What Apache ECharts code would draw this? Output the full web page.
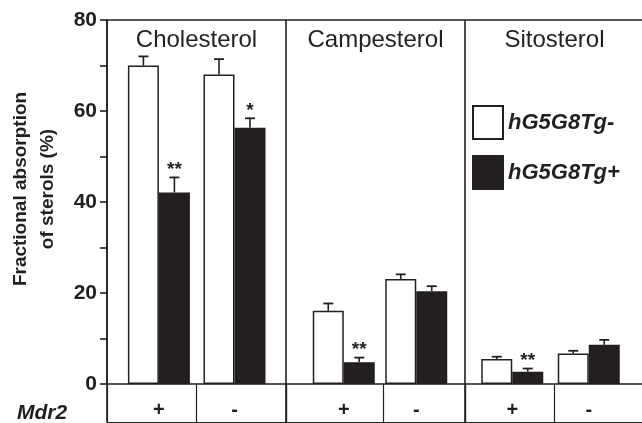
<!DOCTYPE html>
<html>
<head>
<meta charset="utf-8">
<script src="https://cdn.jsdelivr.net/npm/echarts@6/dist/echarts.min.js"></script>
<style>html,body{margin:0;padding:0;background:#fff}#c{width:642px;height:423px}</style>
</head>
<body>
<div id="c"></div>
<script>
// ---- data ----
const sterols = ['Cholesterol', 'Campesterol', 'Sitosterol'];
const mdr2 = ['+', '-'];
// order: Chol(+), Chol(-), Camp(+), Camp(-), Sito(+), Sito(-)
const tgNegMean = [70.0, 68.0, 16.1, 23.1, 5.5, 6.7];
const tgNegSem  = [2.0, 3.4, 1.6, 1.0, 0.5, 0.6];
const tgPosMean = [42.1, 56.3, 4.8, 20.4, 2.7, 8.6];
const tgPosSem  = [3.3, 2.1, 1.0, 1.1, 0.7, 1.1];
const tgPosStars = ['**', '*', '**', '', '**', ''];
const seriesNames = ['hG5G8Tg-', 'hG5G8Tg+'];
const yMin = 0, yMax = 80, yStep = 20;

// ---- layout / style ----
const INK = '#231f20';
const FONT = '"Liberation Sans", Arial, sans-serif';
const BAR_W = 31;
const TOP = 20, BOTTOM = 39;
const panelEdges = [107, 286, 465, 644];
const tableSplit = [[2, 1], [11, 6], [2, 1]]; // value-axis max & interval giving the +/- divider
const barGrids = [[121.1, 151.2], [307.5, 145], [474, 153]];

const chart = echarts.init(document.getElementById('c'), null, {renderer: 'canvas'});

const grid = [{left: 107, right: -2, top: TOP, bottom: BOTTOM, containLabel: false, outerBoundsMode: 'none'}];
const xAxis = [
  {gridIndex: 0, type: 'category', data: sterols, position: 'bottom', boundaryGap: true,
   axisLine: {show: true, lineStyle: {color: INK, width: 1.6}},
   axisTick: {show: true, length: 38, interval: 0, lineStyle: {color: INK, width: 1.6}},
   axisLabel: {show: false},
   splitLine: {show: true, interval: 0, lineStyle: {color: INK, width: 1.6}}},
  {gridIndex: 0, type: 'category', data: sterols, position: 'top', boundaryGap: true,
   axisLine: {show: true, lineStyle: {color: INK, width: 1.6}},
   axisTick: {show: false},
   axisLabel: {show: true, inside: true, margin: 8, interval: 0, color: INK, fontFamily: FONT, fontSize: 24}},
  {gridIndex: 0, type: 'category', data: sterols, position: 'bottom', offset: 38,
   axisLine: {show: true, lineStyle: {color: INK, width: 1.2}},
   axisTick: {show: false}, axisLabel: {show: false}}
];
const yAxis = [
  {gridIndex: 0, type: 'value', min: yMin, max: yMax, interval: yStep,
   name: 'Fractional absorption\nof sterols (%)', nameLocation: 'middle', nameRotate: 90, nameGap: 46,
   nameTextStyle: {color: INK, fontFamily: FONT, fontSize: 19, fontWeight: 'bold', lineHeight: 27, padding: [0, 0, 0, 26]},
   axisLine: {show: true, lineStyle: {color: INK, width: 1.6}},
   axisTick: {show: true, length: 7, lineStyle: {color: INK, width: 1.6}},
   minorTick: {show: true, splitNumber: 2, length: 7, lineStyle: {color: INK, width: 1.6}},
   splitLine: {show: false},
   axisLabel: {margin: 10, color: INK, fontFamily: FONT, fontSize: 21, fontWeight: 'bold'}}
];

// table grids (divider between + and - cells)
for (let p = 0; p < 3; p++) {
  grid.push({left: panelEdges[p], width: panelEdges[p + 1] - panelEdges[p], top: TOP, bottom: BOTTOM,
    containLabel: false, outerBoundsMode: 'none'});
  const gi = grid.length - 1;
  xAxis.push({gridIndex: gi, type: 'value', min: 0, max: tableSplit[p][0], interval: tableSplit[p][1],
    axisLine: {show: false}, axisLabel: {show: false}, splitLine: {show: false},
    axisTick: {show: true, length: 38, lineStyle: {color: INK, width: 1.2}}});
  yAxis.push({gridIndex: gi, type: 'value', min: yMin, max: yMax, show: false});
}

const series = [];
function errRender(side, stars) {
  return function (params, api) {
    const cat = api.value(0), mean = api.value(1), sem = api.value(2);
    const base = api.coord([cat, mean]);
    const top = api.coord([cat, mean + sem]);
    const x = base[0] + side * BAR_W / 2;
    const children = [
      {type: 'line', shape: {x1: x, y1: base[1], x2: x, y2: top[1]}, style: {stroke: INK, lineWidth: 1.6}},
      {type: 'line', shape: {x1: x - 5, y1: top[1], x2: x + 5, y2: top[1]}, style: {stroke: INK, lineWidth: 1.8}}
    ];
    const s = stars ? stars[params.dataIndex] : '';
    if (s) {
      children.push({type: 'text', style: {text: s, x: x, y: top[1] + 2, align: 'center', verticalAlign: 'bottom',
        font: 'bold 19px ' + FONT, fill: INK}});
    }
    return {type: 'group', children: children};
  };
}

// bar grids
for (let p = 0; p < 3; p++) {
  grid.push({left: barGrids[p][0], width: barGrids[p][1], top: TOP, bottom: BOTTOM,
    containLabel: false, outerBoundsMode: 'none'});
  const gi = grid.length - 1;
  xAxis.push({gridIndex: gi, type: 'category', data: mdr2, boundaryGap: true,
    axisLine: {show: false}, axisTick: {show: false}, splitLine: {show: false},
    axisLabel: {show: true, margin: 16, interval: 0, color: INK, fontFamily: FONT, fontSize: 20, fontWeight: 'bold'}});
  yAxis.push({gridIndex: gi, type: 'value', min: yMin, max: yMax, show: false});
  const xi = xAxis.length - 1, yi = yAxis.length - 1;
  const negM = tgNegMean.slice(2 * p, 2 * p + 2), negS = tgNegSem.slice(2 * p, 2 * p + 2);
  const posM = tgPosMean.slice(2 * p, 2 * p + 2), posS = tgPosSem.slice(2 * p, 2 * p + 2);
  const st = tgPosStars.slice(2 * p, 2 * p + 2);
  series.push({type: 'bar', name: seriesNames[0], xAxisIndex: xi, yAxisIndex: yi, data: negM,
    barWidth: BAR_W, barGap: '0%', itemStyle: {color: '#ffffff', borderColor: INK, borderWidth: 1.5}, z: 2});
  series.push({type: 'bar', name: seriesNames[1], xAxisIndex: xi, yAxisIndex: yi, data: posM,
    barWidth: BAR_W, barGap: '0%', itemStyle: {color: INK, borderColor: INK, borderWidth: 1.5}, z: 2});
  series.push({type: 'custom', xAxisIndex: xi, yAxisIndex: yi, z: 3, silent: true,
    data: negM.map((m, i) => [i, m, negS[i]]), renderItem: errRender(-1, null)});
  series.push({type: 'custom', xAxisIndex: xi, yAxisIndex: yi, z: 3, silent: true,
    data: posM.map((m, i) => [i, m, posS[i]]), renderItem: errRender(1, st)});
}

chart.setOption({
  animation: false,
  backgroundColor: '#ffffff',
  title: {text: 'Mdr2', left: 17, top: 403, padding: 0,
    textStyle: {color: INK, fontFamily: FONT, fontSize: 21, fontWeight: 'bold', fontStyle: 'italic'}},
  legend: {data: seriesNames, orient: 'vertical', left: 472, top: 105, padding: 0,
    icon: 'rect', itemWidth: 30, itemHeight: 33, itemGap: 15, selectedMode: false,
    textStyle: {color: INK, fontFamily: FONT, fontSize: 22, fontWeight: 'bold', fontStyle: 'italic'}},
  grid: grid, xAxis: xAxis, yAxis: yAxis, series: series
});
</script>
</body>
</html>
